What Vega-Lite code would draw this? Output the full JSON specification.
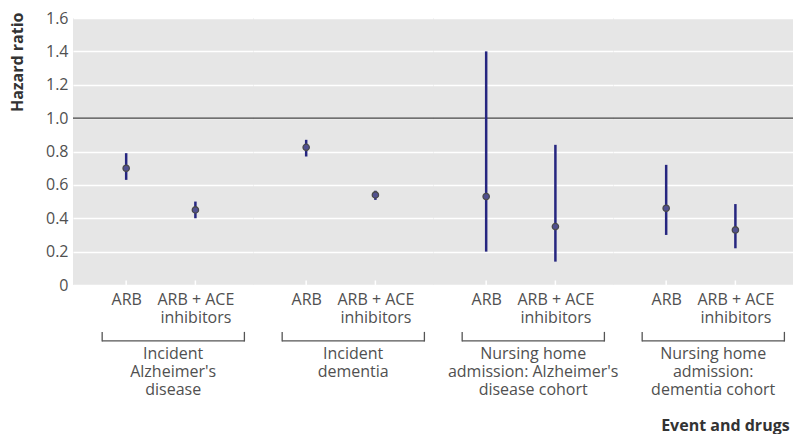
{
  "$schema": "https://vega.github.io/schema/vega-lite/v6.json",
  "padding": {"left": 9, "top": 10, "right": 0, "bottom": 0},
  "bounds": "flush",
  "background": "white",
  "title": {"text": "Event and drugs", "orient": "bottom", "anchor": "end", "font": "Open Sans", "fontSize": 16, "fontWeight": "bold", "color": "#333333", "offset": 20, "dx": -4},
  "data": {"values": [
    {"group": "Incident\nAlzheimer's\ndisease", "drug": "ARB", "hr": 0.70, "lo": 0.63, "hi": 0.79},
    {"group": "Incident\nAlzheimer's\ndisease", "drug": "ARB + ACE inhibitors", "hr": 0.45, "lo": 0.40, "hi": 0.50},
    {"group": "Incident\ndementia", "drug": "ARB", "hr": 0.825, "lo": 0.77, "hi": 0.87},
    {"group": "Incident\ndementia", "drug": "ARB + ACE inhibitors", "hr": 0.54, "lo": 0.51, "hi": 0.565},
    {"group": "Nursing home\nadmission: Alzheimer's\ndisease cohort", "drug": "ARB", "hr": 0.53, "lo": 0.20, "hi": 1.40},
    {"group": "Nursing home\nadmission: Alzheimer's\ndisease cohort", "drug": "ARB + ACE inhibitors", "hr": 0.35, "lo": 0.14, "hi": 0.84},
    {"group": "Nursing home\nadmission:\ndementia cohort", "drug": "ARB", "hr": 0.46, "lo": 0.30, "hi": 0.72},
    {"group": "Nursing home\nadmission:\ndementia cohort", "drug": "ARB + ACE inhibitors", "hr": 0.33, "lo": 0.22, "hi": 0.485}
  ]},
  "facet": {"column": {"field": "group", "type": "nominal", "header": null,
    "sort": ["Incident\nAlzheimer's\ndisease", "Incident\ndementia", "Nursing home\nadmission: Alzheimer's\ndisease cohort", "Nursing home\nadmission:\ndementia cohort"]}},
  "spacing": 0,
  "spec": {
    "width": 180,
    "height": 267,
    "layer": [
      {
        "mark": {"type": "rule", "color": "white", "strokeWidth": 1.5},
        "encoding": {
          "x": {"field": "drug", "type": "nominal", "sort": ["ARB", "ARB + ACE inhibitors"],
            "scale": {"type": "point", "padding": 0.8, "align": 0.48},
            "axis": {"title": null, "domain": false, "ticks": false, "grid": false, "labelAngle": 0,
              "labelExpr": "datum.value == 'ARB' ? 'ARB' : ['ARB + ACE', 'inhibitors']",
              "labelFont": "Open Sans", "labelFontSize": 16, "labelColor": "#505050", "labelLineHeight": 18,
              "labelPadding": 6, "labelBaseline": "top", "labelOverlap": false}},
          "y": {"datum": 0, "type": "quantitative",
            "scale": {"domain": [0, 1.6], "nice": false, "zero": true},
            "axis": {"title": "Hazard ratio", "values": [0, 0.2, 0.4, 0.6, 0.8, 1.0, 1.2, 1.4, 1.6], "tickCount": 12}},
          "y2": {"datum": 0.027}
        }
      },
      {
        "transform": [{"filter": "datum.drug == 'ARB'"}],
        "mark": {"type": "rule", "color": "#404040", "strokeWidth": 1.3},
        "encoding": {"y": {"datum": 1.0, "type": "quantitative"}}
      },
      {
        "mark": {"type": "rule", "color": "#262680", "strokeWidth": 2.5},
        "encoding": {
          "x": {"field": "drug", "type": "nominal"},
          "y": {"field": "lo", "type": "quantitative"},
          "y2": {"field": "hi"}
        }
      },
      {
        "mark": {"type": "point", "filled": true, "fill": "#505090", "stroke": "#4a4a4a", "strokeWidth": 1.3, "size": 40, "opacity": 1},
        "encoding": {
          "x": {"field": "drug", "type": "nominal"},
          "y": {"field": "hr", "type": "quantitative"}
        }
      },
      {
        "transform": [{"filter": "datum.drug == 'ARB'"}],
        "mark": {"type": "rule", "color": "#555555", "strokeWidth": 1.3, "xOffset": -24, "x2Offset": 49},
        "encoding": {
          "x": {"field": "drug", "type": "nominal"},
          "x2": {"datum": "ARB + ACE inhibitors"},
          "y": {"datum": -0.335, "type": "quantitative"}
        }
      },
      {
        "transform": [{"filter": "datum.drug == 'ARB'"}],
        "mark": {"type": "rule", "color": "#555555", "strokeWidth": 1.3, "xOffset": -24},
        "encoding": {
          "x": {"field": "drug", "type": "nominal"},
          "y": {"datum": -0.281, "type": "quantitative"},
          "y2": {"datum": -0.339}
        }
      },
      {
        "transform": [{"filter": "datum.drug != 'ARB'"}],
        "mark": {"type": "rule", "color": "#555555", "strokeWidth": 1.3, "xOffset": 49},
        "encoding": {
          "x": {"field": "drug", "type": "nominal"},
          "y": {"datum": -0.281, "type": "quantitative"},
          "y2": {"datum": -0.339}
        }
      },
      {
        "transform": [{"filter": "datum.drug == 'ARB'"}],
        "mark": {"type": "text", "font": "Open Sans", "fontSize": 16, "color": "#505050", "align": "center",
          "baseline": "top", "lineHeight": 18, "lineBreak": "\n", "xOffset": 47},
        "encoding": {
          "x": {"field": "drug", "type": "nominal"},
          "y": {"datum": -0.365, "type": "quantitative"},
          "text": {"field": "group"}
        }
      }
    ]
  },
  "config": {
    "view": {"fill": "#e6e6e6", "stroke": null},
    "font": "Open Sans",
    "axisY": {"titleAnchor": "end", "titleY": -6, "titleFont": "Open Sans", "titleFontSize": 16,
      "titleFontWeight": "bold", "titleColor": "#333333", "titlePadding": 20,
      "labelExpr": "datum.value == 0 ? '0' : format(datum.value, '.1f')",
      "labelFont": "Open Sans", "labelFontSize": 16, "labelColor": "#505050", "labelPadding": 5,
      "labelOverlap": false, "labelFlush": false,
      "domain": false, "ticks": false, "grid": true, "gridColor": "white", "gridWidth": 1.5}
  }
}
